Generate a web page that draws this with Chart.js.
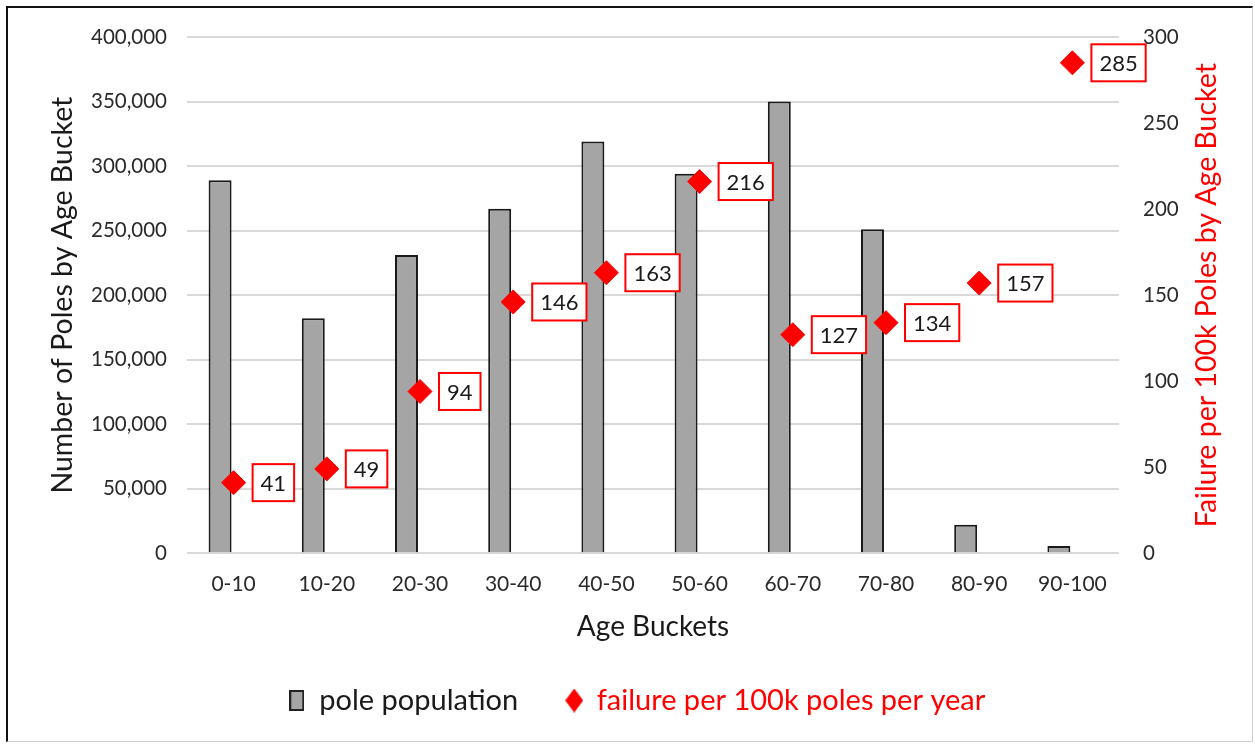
<!DOCTYPE html>
<html>
<head>
<meta charset="utf-8">
<script src="https://cdn.jsdelivr.net/npm/chart.js@4"></script>
<style>
  html, body { margin: 0; padding: 0; background: #fff; }
  #frame {
    position: absolute; left: 6px; top: 6px;
    width: 1244px; height: 733px;
    border-left: 2px solid #111; border-top: 2px solid #111;
    border-right: 1px solid #d0d0d0; border-bottom: 1px solid #d0d0d0;
  }
  #chart { display: block; }
</style>
</head>
<body>
<div id="frame"><canvas id="chart" width="1244" height="733"></canvas></div>
<script>
const ageBuckets = ['0-10', '10-20', '20-30', '30-40', '40-50', '50-60', '60-70', '70-80', '80-90', '90-100'];
const polePopulation = [289000, 182000, 231000, 267000, 319000, 294000, 350000, 251000, 22000, 5500];
const failureRate = [41, 49, 94, 146, 163, 216, 127, 134, 157, 285];
const emptySlot = ageBuckets.map(() => null);

const FONT = 'Lato';
const RED = '#ff0000';

// legend icons
function rectIcon() {
  const c = document.createElement('canvas');
  c.width = 15; c.height = 21;
  const g = c.getContext('2d');
  g.fillStyle = '#a5a5a5';
  g.fillRect(1, 1, 13, 19);
  g.strokeStyle = '#222';
  g.lineWidth = 2;
  g.strokeRect(1, 1, 13, 19);
  return c;
}
function diamondIcon() {
  const c = document.createElement('canvas');
  c.width = 18; c.height = 24;
  const g = c.getContext('2d');
  g.fillStyle = RED;
  g.beginPath();
  g.moveTo(9, 0); g.lineTo(18, 12); g.lineTo(9, 24); g.lineTo(0, 12);
  g.closePath();
  g.fill();
  return c;
}

const valueBoxes = {
  id: 'valueBoxes',
  afterDatasetsDraw(chart) {
    const meta = chart.getDatasetMeta(0);
    const ctx = chart.ctx;
    ctx.save();
    ctx.font = '22px ' + FONT;
    ctx.textBaseline = 'middle';
    ctx.textAlign = 'left';
    meta.data.forEach((pt, i) => {
      const txt = String(failureRate[i]);
      const w = ctx.measureText(txt).width + 16;
      const h = 37;
      const x = pt.x + 19;
      const y = pt.y - h / 2;
      ctx.fillStyle = '#fff';
      ctx.fillRect(x, y, w, h);
      ctx.strokeStyle = RED;
      ctx.lineWidth = 2;
      ctx.strokeRect(x, y, w, h);
      ctx.fillStyle = '#1a1a1a';
      ctx.fillText(txt, x + 8, pt.y + 1);
    });
    ctx.restore();
  },
  afterDraw(chart) {
    const s = chart.scales.y2;
    const ctx = chart.ctx;
    ctx.save();
    ctx.translate(1199, (s.top + s.bottom) / 2);
    ctx.rotate(-Math.PI / 2);
    ctx.font = '28.5px ' + FONT;
    ctx.fillStyle = RED;
    ctx.textAlign = 'center';
    ctx.textBaseline = 'middle';
    ctx.fillText('Failure per 100k Poles by Age Bucket', 0, 0);
    ctx.restore();
  }
};

new Chart(document.getElementById('chart'), {
  data: {
    labels: ageBuckets,
    datasets: [
      {
        type: 'line',
        label: 'failure per 100k poles per year',
        data: failureRate,
        yAxisID: 'y2',
        showLine: false,
        pointStyle: 'rectRot',
        pointRadius: 12,
        pointBorderWidth: 1,
        backgroundColor: RED,
        borderColor: RED,
        order: 0,
      },
      {
        type: 'bar',
        label: 'pole population',
        data: polePopulation,
        yAxisID: 'y',
        backgroundColor: '#a5a5a5',
        borderColor: '#1a1a1a',
        borderWidth: 2,
        categoryPercentage: 0.58,
        barPercentage: 0.85,
        order: 1,
      },
      {
        type: 'bar',
        label: '',
        data: emptySlot,
        yAxisID: 'y',
        categoryPercentage: 0.58,
        barPercentage: 0.85,
        order: 2,
      },
    ],
  },
  options: {
    responsive: false,
    animation: false,
    layout: { padding: { left: 34, right: 20, top: 0, bottom: 16 } },
    plugins: {
      tooltip: { enabled: false },
      legend: {
        position: 'bottom',
        labels: {
          font: { family: FONT, size: 29 },
          padding: 48,
          boxWidth: 16,
          usePointStyle: true,
          generateLabels: (chart) => [
            { text: 'pole population', fontColor: '#1a1a1a', pointStyle: rectIcon(), datasetIndex: 1, lineWidth: 0 },
            { text: 'failure per 100k poles per year', fontColor: RED, pointStyle: diamondIcon(), datasetIndex: 0, lineWidth: 0 },
          ],
        },
      },
    },
    scales: {
      x: {
        grid: { display: false },
        border: { display: false },
        ticks: { font: { family: FONT, size: 21 }, color: '#2a2a2a', padding: 10 },
        title: { display: true, text: 'Age Buckets', font: { family: FONT, size: 28 }, color: '#1a1a1a', padding: { top: 4, bottom: -6 } },
      },
      y: {
        position: 'left',
        min: 0,
        max: 400000,
        ticks: {
          stepSize: 50000,
          font: { family: FONT, size: 20.5 },
          color: '#2a2a2a',
          padding: 20,
          callback: (v) => v.toLocaleString('en-US'),
        },
        grid: { color: '#d9d9d9', lineWidth: 2, drawTicks: false },
        border: { display: false },
        title: { display: true, text: 'Number of Poles by Age Bucket', font: { family: FONT, size: 28.5 }, color: '#1a1a1a' },
        afterFit: (s) => { s.width = 145; s.paddingTop = 29; },
      },
      y2: {
        position: 'right',
        min: 0,
        max: 300,
        ticks: { stepSize: 50, font: { family: FONT, size: 20.5 }, color: '#2a2a2a', padding: 24 },
        grid: { drawOnChartArea: false, drawTicks: false },
        border: { display: false },
        afterFit: (s) => { s.width = 113; s.paddingTop = 29; },
      },
    },
  },
  plugins: [valueBoxes],
});
</script>
</body>
</html>
